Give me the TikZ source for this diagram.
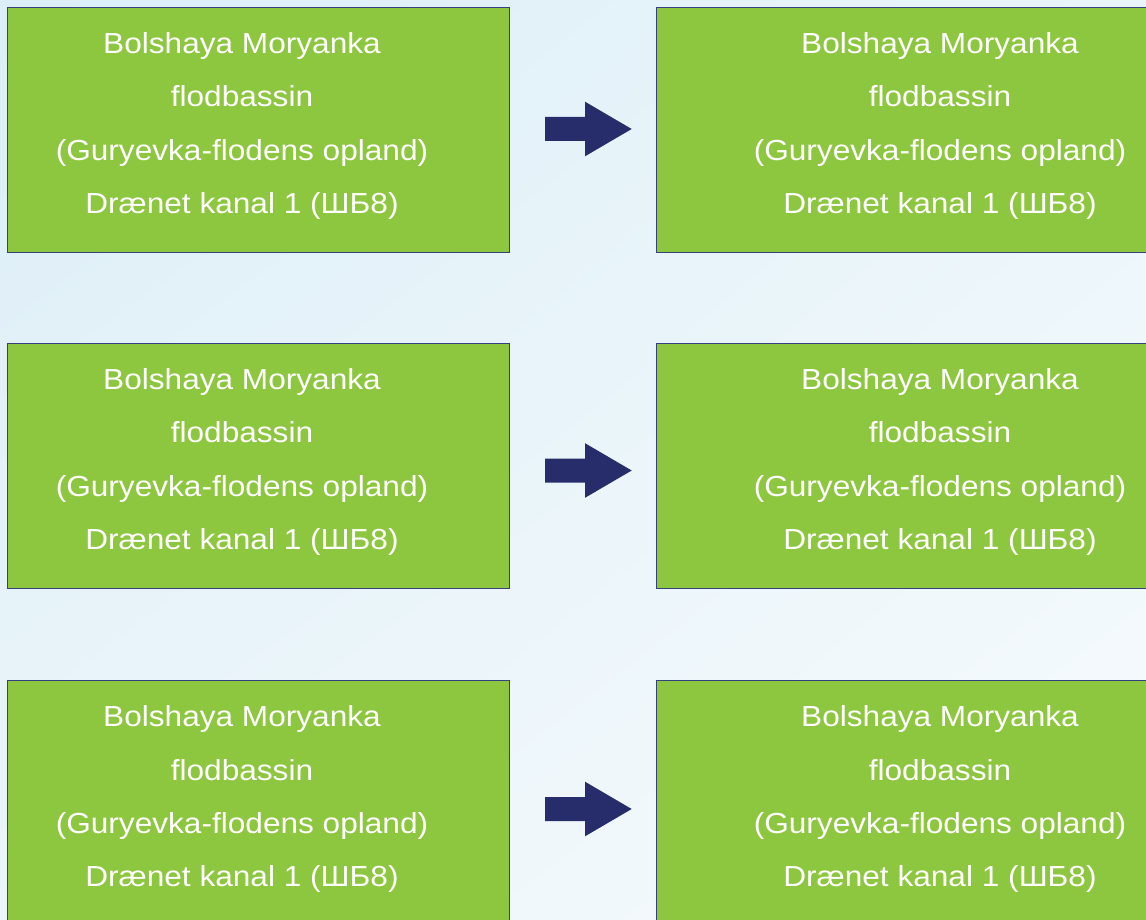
\documentclass[tikz,border=0pt]{standalone}
\usepackage{fontspec}
\setmainfont{Liberation Sans}[FakeStretch=1.09]
\usetikzlibrary{shadings}
\definecolor{boxgreen}{HTML}{8DC63F}
\definecolor{boxline}{HTML}{34407F}
\definecolor{arrownavy}{HTML}{262D6A}
\definecolor{bgA}{HTML}{DCEEF7}
\definecolor{bgB}{HTML}{EAF5FA}
\definecolor{bgC}{HTML}{EBF5FA}
\definecolor{bgD}{HTML}{F7FBFD}
\begin{document}
\begin{tikzpicture}[x=1pt,y=-1pt,
  greenbox/.style={draw=boxline,line width=1.2pt,fill=boxgreen,rectangle,inner sep=0pt,
    minimum width=502pt,minimum height=245pt,anchor=north west},
  boxtext/.style={text=white,anchor=base,inner sep=0pt,font=\fontsize{29}{34}\selectfont},
  blockarrow/.style={fill=arrownavy,draw=none}]
\useasboundingbox (0,0) rectangle (1146,920);
\shade[upper left=bgA,upper right=bgB,lower left=bgC,lower right=bgD] (0,0) rectangle (1146,920);
\clip (0,0) rectangle (1146,920);
\foreach \r/\y/\ay in {1/6.7/129,2/342.7/470.5,3/680/809}{
  \node[greenbox] (L\r) at (7,\y) {};
  \node[greenbox] (R\r) at (655.5,\y) {};
  \foreach \cx/\s in {242/L,940/R}{
    \node[boxtext] (\s\r a) at (\cx,\y+46.6) {Bolshaya Moryanka};
    \node[boxtext] (\s\r b) at (\cx,\y+100.2) {flodbassin};
    \node[boxtext] (\s\r c) at (\cx,\y+153.8) {(Guryevka-flodens opland)};
    \node[boxtext] (\s\r d) at (\cx,\y+206.6) {Drænet kanal 1 (ШБ8)};
  }
  \coordinate (A\r) at (545,\ay);
  \fill[blockarrow] (A\r) ++(0,-12) -- ++(40,0) -- ++(0,-15.3) -- ++(46.7,27.3)
    -- ++(-46.7,27.3) -- ++(0,-15.3) -- ++(-40,0) -- cycle;
}
\end{tikzpicture}
\end{document}
